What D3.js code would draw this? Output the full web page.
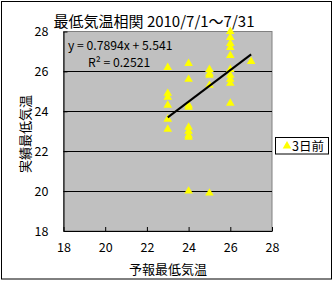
<!DOCTYPE html>
<html><head><meta charset="utf-8">
<script src="https://cdn.jsdelivr.net/npm/d3@7"></script>
<style>body{margin:0;background:#fff}svg{display:block}</style>
</head><body>
<script>
const title = "最低気温相関 2010/7/1～7/31";
const xTitle = "予報最低気温";
const yTitle = "実績最低気温";
const seriesName = "3日前";
const xTicks = [18, 20, 22, 24, 26, 28];
const yTicks = [18, 20, 22, 24, 26, 28];
const forecast = [23,23,23,23,23,23, 24,24,24,24,24,24,24,24,24, 25,25,25,25,25, 26,26,26,26,26,26,26,26,26,26, 27];
const actual   = [26.2,24.9,24.7,24.3,23.6,23.1, 26.4,25.6,24.3,24.2,23.2,23.0,22.8,22.7,20.0, 26.1,25.9,25.8,25.3,19.9, 28.0,27.7,27.4,27.2,26.8,26.1,25.8,25.6,25.4,24.4, 26.5];
const slope = 0.7894, intercept = 5.541;
const eqText = "y = 0.7894x + 5.541";
const r2Text = "R² = 0.2521";

const W = 335, H = 282;
const font = "'Noto Sans CJK JP', 'Liberation Sans', sans-serif";
const svg = d3.select("body").append("svg").attr("width", W).attr("height", H);
svg.append("rect").attr("x", 1.5).attr("y", 1.5).attr("width", 330).attr("height", 277.5)
  .attr("fill", "#fff").attr("stroke", "#000").attr("stroke-width", 1);

const x = d3.scaleLinear().domain([18, 28]).range([63.5, 272]);
const y = d3.scaleLinear().domain([18, 28]).range([231, 31.5]);

svg.append("rect").attr("x", x(18)).attr("y", y(28)).attr("width", x(28) - x(18)).attr("height", y(18) - y(28))
  .attr("fill", "#c0c0c0").attr("stroke", "#808080").attr("stroke-width", 1);

// gridlines
svg.append("g").selectAll("line").data(yTicks.filter(d => d > 18 && d < 28)).join("line")
  .attr("x1", x(18)).attr("x2", x(28)).attr("y1", d => Math.round(y(d)) + 0.5).attr("y2", d => Math.round(y(d)) + 0.5)
  .attr("stroke", "#000").attr("stroke-width", 1);

// axes
const xAxis = d3.axisBottom(x).tickValues(xTicks).tickSizeInner(-4).tickSizeOuter(0).tickPadding(12);
const gx = svg.append("g").attr("transform", `translate(0,${y(18)})`).call(xAxis);
gx.select(".domain").attr("stroke", "#000");
gx.selectAll("text").attr("font-family", font).attr("font-size", 12.5).attr("fill", "#000");
const yAxis = d3.axisLeft(y).tickValues(yTicks).tickSizeInner(-4).tickSizeOuter(0).tickPadding(15);
const gy = svg.append("g").attr("transform", `translate(${x(18)},0)`).call(yAxis);
gy.select(".domain").attr("stroke", "#000");
gy.selectAll("text").attr("font-family", font).attr("font-size", 12.5).attr("fill", "#000");

// points
const tri = d3.symbol().type(d3.symbolTriangle).size(32);
svg.append("g").selectAll("path").data(forecast.map((f, i) => [f, actual[i]])).join("path")
  .attr("d", tri).attr("transform", d => `translate(${x(d[0])},${y(d[1])})`)
  .attr("fill", "#ffff00");

// trendline
const xr = d3.extent(forecast);
svg.append("line").attr("x1", x(xr[0])).attr("y1", y(slope * xr[0] + intercept))
  .attr("x2", x(xr[1])).attr("y2", y(slope * xr[1] + intercept))
  .attr("stroke", "#000").attr("stroke-width", 2);

// equation
svg.append("text").attr("x", 68).attr("y", 50).text(eqText)
  .attr("font-family", font).attr("font-size", 12.2);
svg.append("text").attr("x", 88).attr("y", 66.5).text(r2Text)
  .attr("font-family", font).attr("font-size", 12.2);

// title
svg.append("text").attr("x", 154).attr("y", 27).attr("text-anchor", "middle").text(title)
  .attr("font-family", font).attr("font-size", 15);
svg.append("text").attr("x", 168).attr("y", 274).attr("text-anchor", "middle").text(xTitle)
  .attr("font-family", font).attr("font-size", 13);
svg.append("text").attr("transform", "translate(30,134) rotate(-90)").attr("text-anchor", "middle").text(yTitle)
  .attr("font-family", font).attr("font-size", 13);

// legend
svg.append("rect").attr("x", 275.5).attr("y", 137.5).attr("width", 53).attr("height", 16.5)
  .attr("fill", "#fff").attr("stroke", "#000");
svg.append("path").attr("d", tri).attr("transform", "translate(287,146)").attr("fill", "#ffff00");
svg.append("text").attr("x", 292).attr("y", 150.5).text(seriesName)
  .attr("font-family", font).attr("font-size", 12.5);
</script>
</body></html>
